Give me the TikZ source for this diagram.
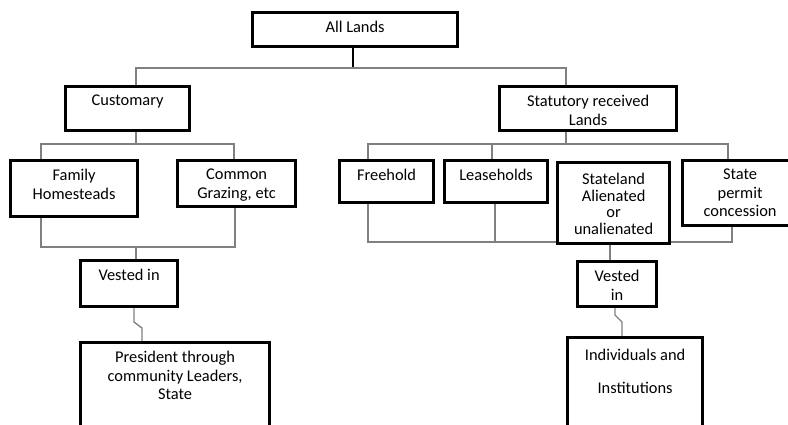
\documentclass[tikz,border=0pt]{standalone}
\usepackage{fontspec}
\setmainfont{Carlito}
\usetikzlibrary{positioning}

\begin{document}
\begin{tikzpicture}[x=1pt,y=-1pt,
  box/.style={draw, line width=3.2pt, anchor=north west, inner sep=0pt},
  txt/.style={anchor=north, align=center, inner sep=0pt, yshift=-10pt, font=\fontsize{16.4}{18.5}\selectfont},
  link/.style={draw=gray, line width=1.4pt},
  stem/.style={draw=black, line width=1.8pt}]
 % page frame
 \useasboundingbox (0,0) rectangle (788,424);

 % boxes, placed by their top left corner
 \node[box, minimum width=205pt, minimum height=34pt, label={[txt]north:All Lands}] (all) at (251,11) {};
 \node[box, minimum width=124pt, minimum height=44pt, label={[txt]north:Customary}] (cust) at (64,85) {};
 \node[box, minimum width=177pt, minimum height=44pt, label={[txt]north:{Statutory received\\Lands}}] (stat) at (498,85) {};
 \node[box, minimum width=127pt, minimum height=56pt, label={[txt]north:{Family\\Homesteads}}] (family) at (9,159) {};
 \node[box, minimum width=118pt, minimum height=46pt, label={[txt]north:{Common\\Grazing, etc}}] (common) at (176,159) {};
 \node[box, minimum width=94pt, minimum height=42pt, label={[txt]north:Freehold}] (free) at (338,159) {};
 \node[box, minimum width=103pt, minimum height=42pt, label={[txt]north:Leaseholds}] (lease) at (443,159) {};
 \node[box, minimum width=112pt, minimum height=81pt, label={[txt,yshift=-2pt]north:{Stateland\\[-2pt]Alienated\\[-2pt]or\\[-2pt]unalienated}}] (sland) at (556,161) {};
 \node[box, minimum width=115pt, minimum height=65pt, label={[txt]north:{State\\permit\\concession}}] (spermit) at (681,159) {};
 \node[box, minimum width=97pt, minimum height=46pt, label={[txt]north:Vested in}] (vestL) at (79,259) {};
 \node[box, minimum width=79pt, minimum height=45pt, label={[txt]north:{Vested\\in}}] (vestR) at (576,260) {};
 \node[box, minimum width=189pt, minimum height=95pt, label={[txt]north:{President through\\community Leaders,\\State}}] (pres) at (79,341) {};
 \node[box, minimum width=135pt, minimum height=100pt, label={[txt,yshift=-3pt]north:{Individuals and\\[14pt]Institutions}}] (indiv) at (566,336) {};

 % bus points
 \coordinate (topbus) at (353,68);
 \coordinate (bL) at (136,68);
 \coordinate (bR) at (566,68);
 \coordinate (cbus) at (136,144);
 \coordinate (cF) at (41,144);
 \coordinate (cC) at (234,144);
 \coordinate (vF) at (41,247);
 \coordinate (vC) at (235,247);
 \coordinate (vbusL) at (136,247);
 \coordinate (zL1) at (134,322);
 \coordinate (zL2) at (142,328);
 \coordinate (sbus) at (566,144);
 \coordinate (sF) at (368,144);
 \coordinate (sL) at (492,144);
 \coordinate (sP) at (728,144);
 \coordinate (lF) at (368,242);
 \coordinate (lL) at (495,242);
 \coordinate (lP) at (732,242);
 \coordinate (sv) at (610,250);
 \coordinate (zR1) at (615,315);
 \coordinate (zR2) at (622,322);

 % connectors
 \draw[stem] (topbus |- all.south) -- (topbus);
 \draw[link] (bL |- cust.north) -- (bL) -- (bR) -- (bR |- stat.north);

 \draw[link] (cbus |- cust.south) -- (cbus);
 \draw[link] (cF |- family.north) -- (cF) -- (cC) -- (cC |- common.north);
 \draw[link] (vF |- family.south) -- (vF) -- (vC) -- (vC |- common.south);
 \draw[link] (vbusL) -- (vbusL |- vestL.north);
 \draw[link] (zL1 |- vestL.south) -- (zL1) -- (zL2) -- (zL2 |- pres.north);

 \draw[link] (sbus |- stat.south) -- (sbus);
 \draw[link] (sF |- free.north) -- (sF) -- (sP) -- (sP |- spermit.north);
 \draw[link] (sL) -- (sL |- lease.north);
 \draw[link] (lF |- free.south) -- (lF) -- (lF -| sland.west);
 \draw[link] (lP -| sland.east) -- (lP) -- (lP |- spermit.south);
 \draw[link] (lL |- lease.south) -- (lL);
 \draw[link] (sv |- sland.south) -- (sv |- vestR.north);
 \draw[link] (zR1 |- vestR.south) -- (zR1) -- (zR2) -- (zR2 |- indiv.north);
\end{tikzpicture}
\end{document}
